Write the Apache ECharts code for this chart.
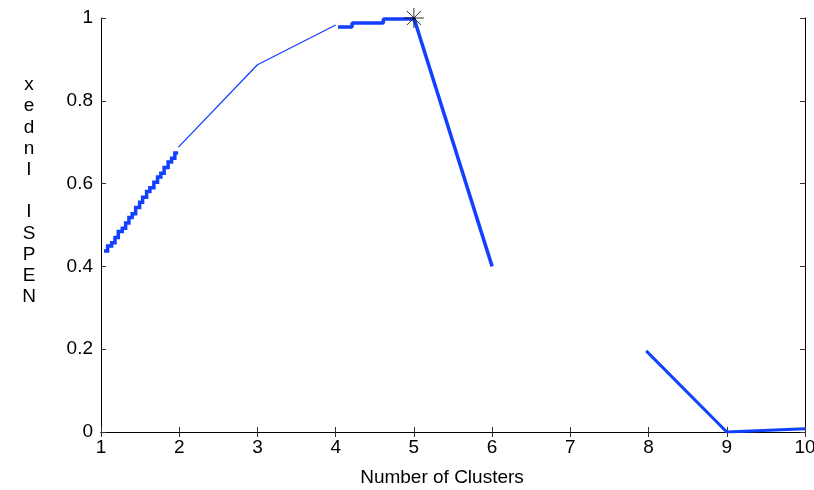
<!DOCTYPE html>
<html>
<head>
<meta charset="utf-8">
<script src="https://cdn.jsdelivr.net/npm/echarts@6/dist/echarts.min.js"></script>
<style>
  html, body { margin: 0; padding: 0; background: #fff; }
  #chart { width: 814px; height: 490px; }
</style>
</head>
<body>
<div id="chart"></div>
<script>
// 1 -> 2 : fine staircase (thick)
const stairX = [1.038, 1.085, 1.136, 1.179, 1.221, 1.272, 1.315, 1.357, 1.399, 1.443, 1.494,
  1.532, 1.583, 1.625, 1.676, 1.723, 1.765, 1.807, 1.858, 1.902, 1.944, 1.986];
const stairY = [0.437, 0.449, 0.457, 0.470, 0.484, 0.492, 0.505, 0.518, 0.527, 0.542, 0.555,
  0.567, 0.581, 0.590, 0.603, 0.616, 0.625, 0.639, 0.652, 0.661, 0.674, 0.674];
// 2 -> 4 : thin line
const thinX = [1.99, 3, 4];
const thinY = [0.688, 0.887, 0.983];
// 4 -> 5 : flat steps
const flatX = [4.03, 4.21, 4.61, 5];
const flatY = [0.978, 0.988, 0.9976, 1.0];
// 5 -> 6 : drop
const dropX = [5, 6];
const dropY = [1.0, 0.40];
// 8 -> 10
const tailX = [7.97, 9, 10];
const tailY = [0.196, 0.0, 0.008];
// best point
const bestX = 5, bestY = 1.0;

const yTicks = [0, 0.2, 0.4, 0.6, 0.8, 1];

const pairs = (xs, ys) => xs.map((x, i) => [x, ys[i]]);
const FONT = "'Liberation Sans', Arial, Helvetica, sans-serif";
const BLUE = '#1240ff';

const myChart = echarts.init(document.getElementById('chart'));

const axisCommon = {
  axisLine: { show: true, lineStyle: { color: '#000', width: 1 } },
  axisTick: { show: true, inside: true, length: 5, lineStyle: { color: '#333' } },
  splitLine: { show: false },
};

const option = {
  animation: false,
  backgroundColor: '#fff',
  grid: { left: 101, right: 9, top: 18, bottom: 58, outerBoundsMode: 'none', containLabel: false },
  xAxis: [
    Object.assign({
      type: 'value', min: 1, max: 10, interval: 1, position: 'bottom',
      axisLabel: { color: '#000', fontSize: 19, fontFamily: FONT, margin: 6 },
    }, axisCommon),
    Object.assign({
      type: 'value', min: 1, max: 10, interval: 1, position: 'top',
      axisLabel: { show: false },
    }, axisCommon),
  ],
  yAxis: [
    Object.assign({
      type: 'value', min: 0, max: 1, interval: 0.2, position: 'left',
      axisLabel: {
        color: '#000', fontSize: 19, fontFamily: FONT, margin: 8,
        padding: [0, 0, 6, 0],
        formatter: v => yTicks.includes(+v.toFixed(1)) ? String(+v.toFixed(1)) : '',
      },
    }, axisCommon),
    Object.assign({
      type: 'value', min: 0, max: 1, interval: 0.2, position: 'right',
      axisLabel: { show: false },
    }, axisCommon),
  ],
  graphic: [
    {
      type: 'text', x: 29, y: 74.4,
      style: {
        text: 'x\ne\nd\nn\nI\n \nI\nS\nP\nE\nN',
        fill: '#000', font: '19px ' + FONT, lineHeight: 21.2,
        align: 'center', verticalAlign: 'top',
      },
    },
    {
      type: 'text', x: 442, y: 478,
      style: {
        text: 'Number of Clusters', fill: '#000', font: '19px ' + FONT,
        align: 'center', verticalAlign: 'middle',
      },
    },
  ],
  series: [
    {
      type: 'line', step: 'end', data: pairs(stairX, stairY), showSymbol: false,
      lineStyle: { color: BLUE, width: 3.5, cap: 'butt', join: 'miter' },
    },
    {
      type: 'line', data: pairs(thinX, thinY), showSymbol: false,
      lineStyle: { color: BLUE, width: 1.3 },
    },
    {
      type: 'line', step: 'end', data: pairs(flatX, flatY), showSymbol: false,
      lineStyle: { color: BLUE, width: 3.5, cap: 'butt' },
    },
    {
      type: 'line', data: pairs(dropX, dropY), showSymbol: false,
      lineStyle: { color: BLUE, width: 3.5 },
    },
    {
      type: 'line', data: pairs(tailX, tailY), showSymbol: false,
      lineStyle: { color: BLUE, width: 3 },
    },
    {
      type: 'scatter', data: [[bestX, bestY]],
      symbol: 'path://M10,0L10,20M0,10L20,10M3,3L17,17M17,3L3,17',
      symbolSize: 20,
      itemStyle: { color: 'none', borderColor: '#000', borderWidth: 1 },
      z: 5,
    },
  ],
};

myChart.setOption(option);
</script>
</body>
</html>
